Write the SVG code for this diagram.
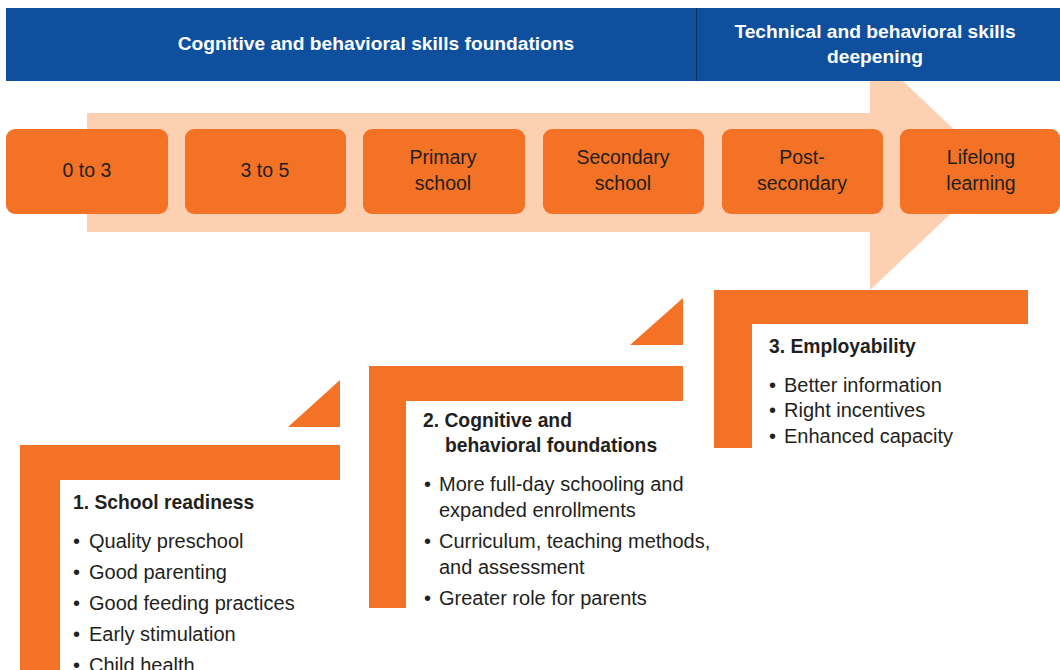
<svg xmlns="http://www.w3.org/2000/svg" width="1060" height="670" viewBox="0 0 1060 670">
<style>
.bn{fill:#0e4f9e}
.hd{font-family:"Liberation Sans",Arial,sans-serif;font-weight:bold;font-size:19.2px;fill:#ffffff;text-anchor:middle}
.bx{fill:#f37226}
.bt{font-family:"Liberation Sans",Arial,sans-serif;font-size:19.5px;fill:#231f20;text-anchor:middle}
.st{fill:#f37226}
.t{font-family:"Liberation Sans",Arial,sans-serif;font-size:20px;fill:#231f20}
.tb{font-family:"Liberation Sans",Arial,sans-serif;font-size:19.3px;font-weight:bold;fill:#231f20}
</style>
<rect width="1060" height="670" fill="#ffffff"/>
<g id="arrow">
<rect x="87" y="113" width="785" height="119" fill="#fdd0b2"/>
<polygon points="870,50 997,170 870,290" fill="#fdd0b2"/>
</g>
<g id="banner">
<rect class="bn" x="6" y="8" width="1054" height="73"/>
<line x1="696.5" y1="8" x2="696.5" y2="81" stroke="#0a2e5c" stroke-width="1"/>
<text class="hd" x="376" y="50">Cognitive and behavioral skills foundations</text>
<text class="hd" x="875" y="38">Technical and behavioral skills</text>
<text class="hd" x="875" y="63">deepening</text>
</g>
<g id="stage-0-3"><rect class="bx" x="6" y="129" width="162" height="85" rx="9"/><text class="bt" x="87" y="177">0 to 3</text></g>
<g id="stage-3-5"><rect class="bx" x="185" y="129" width="161" height="85" rx="9"/><text class="bt" x="265" y="177">3 to 5</text></g>
<g id="stage-primary"><rect class="bx" x="363" y="129" width="162" height="85" rx="9"/><text class="bt" x="443" y="164">Primary</text><text class="bt" x="443" y="190">school</text></g>
<g id="stage-secondary"><rect class="bx" x="543" y="129" width="161" height="85" rx="9"/><text class="bt" x="623" y="164">Secondary</text><text class="bt" x="623" y="190">school</text></g>
<g id="stage-post"><rect class="bx" x="722" y="129" width="161" height="85" rx="9"/><text class="bt" x="802" y="164">Post-</text><text class="bt" x="802" y="190">secondary</text></g>
<g id="stage-lifelong"><rect class="bx" x="900" y="129" width="160" height="85" rx="9"/><text class="bt" x="981" y="164">Lifelong</text><text class="bt" x="981" y="190">learning</text></g>
<g id="connectors"></g>
<g id="step1">
<polygon class="st" points="20,445 340,445 340,480 60,480 60,670 20,670"/>
<polygon class="st" points="340,380 340,427 288,427"/>
<text class="tb" x="73" y="509">1. School readiness</text>
<text class="t" x="73" y="548">•</text><text class="t" x="89" y="548">Quality preschool</text>
<text class="t" x="73" y="579">•</text><text class="t" x="89" y="579">Good parenting</text>
<text class="t" x="73" y="610">•</text><text class="t" x="89" y="610">Good feeding practices</text>
<text class="t" x="73" y="641">•</text><text class="t" x="89" y="641">Early stimulation</text>
<text class="t" x="73" y="672">•</text><text class="t" x="89" y="672">Child health</text>
</g>
<g id="step2">
<polygon class="st" points="369,366 683,366 683,401 406,401 406,608 369,608"/>
<polygon class="st" points="683,298 683,345 630,345"/>
<text class="tb" x="423" y="427">2. Cognitive and</text>
<text class="tb" x="445" y="452">behavioral foundations</text>
<text class="t" x="424" y="491">•</text><text class="t" x="439" y="491">More full-day schooling and</text>
<text class="t" x="439" y="517">expanded enrollments</text>
<text class="t" x="424" y="548">•</text><text class="t" x="439" y="548">Curriculum, teaching methods,</text>
<text class="t" x="439" y="574">and assessment</text>
<text class="t" x="424" y="605">•</text><text class="t" x="439" y="605">Greater role for parents</text>
</g>
<g id="step3">
<polygon class="st" points="714,290 1028,290 1028,324 752,324 752,448 714,448"/>
<text class="tb" x="769" y="353">3. Employability</text>
<text class="t" x="769" y="392">•</text><text class="t" x="784" y="392">Better information</text>
<text class="t" x="769" y="417">•</text><text class="t" x="784" y="417">Right incentives</text>
<text class="t" x="769" y="443">•</text><text class="t" x="784" y="443">Enhanced capacity</text>
</g>
</svg>
